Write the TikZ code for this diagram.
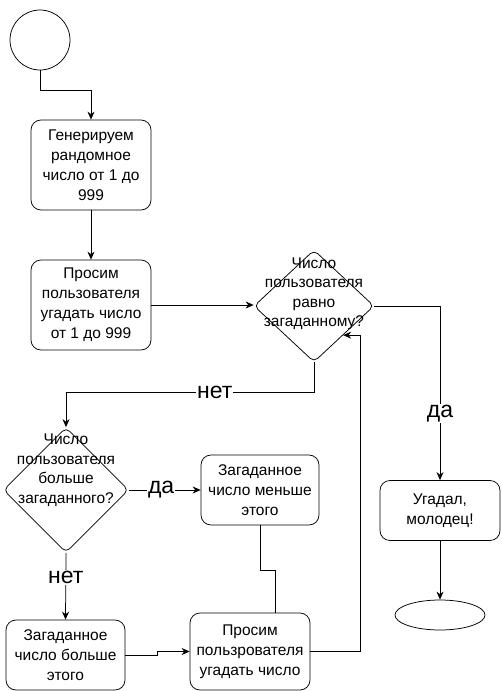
\documentclass[tikz,border=0pt]{standalone}
\usepackage{fontspec}
\setmainfont{Liberation Sans}
\usetikzlibrary{arrows.meta,positioning,shapes.geometric}
\tikzset{every picture/.style={line width=0.75pt}}
\tikzset{
    every node/.style={font=\fontsize{15.5}{20}\selectfont},
    box/.style={draw, rounded corners=10pt, align=center, minimum width=120, minimum height=90, inner sep=2pt},
    decision/.style={draw, diamond, rounded corners=5pt, minimum width=120, minimum height=112, inner sep=0pt},
    dtext/.style={align=center, font=\fontsize{15.5}{19.5}\selectfont},
    lbl/.style={fill=white, inner sep=1pt, font=\fontsize{23}{26}\selectfont},
    arr/.style={-{Stealth[length=8pt,width=7pt]}},
}

\begin{document}
\begin{tikzpicture}[x=1pt, y=-1pt]
    \useasboundingbox (0,0) rectangle (501,691);
    \node[draw, circle, minimum size=60] (start) at (40,40) {};
    \node[box] (gen) at (91,165) {Генерируем\\рандомное\\число от 1 до\\999};
    \node[box] (ask) at (91,305) {Просим\\пользователя\\угадать число\\от 1 до 999};
    \node[decision, label={[dtext, yshift=12]center:Число\\пользователя\\равно\\загаданному?}] (eq) at (314,306) {};
    \node[decision, minimum width=125, minimum height=125, label={[dtext, yshift=20]center:Число\\пользователя\\больше\\загаданного?}] (gt) at (66,490) {};
    \node[box, minimum width=118, minimum height=70] (less) at (260,490) {Загаданное\\число меньше\\этого};
    \node[box, minimum width=119, minimum height=70] (more) at (65.5,655) {Загаданное\\число больше\\этого};
    \node[box, minimum height=77] (again) at (250,651.5) {Просим\\пользрователя\\угадать число};
    \node[box, minimum height=60] (win) at (440,510.5) {Угадал,\\молодец!};
    \node[draw, ellipse, minimum width=90, minimum height=30] (stop) at (440,615) {};

    \draw[arr] (start.south) -- ++(0,20) -| (gen.north);
    \draw[arr] (gen) -- (ask);
    \draw[arr] (ask.east) -- (ask.east -| eq.west);
    \draw[arr] (eq.south) -- ++(0,30) -| node[lbl, pos=0.2] {нет} (gt.north);
    \draw[arr] (eq.east) -| node[lbl, pos=0.81] {да} (win.north);
    \draw[arr] (gt.east) -- node[lbl, pos=0.45] {да} (less.west);
    \draw[arr] (gt.south) -- node[lbl, pos=0.37] {нет} (more.north);
    \draw[arr] (more.east) -- ++(32,0) |- (again.west);
    \draw (less.south) -- ++(0,45) -| ([xshift=25pt]again.north);
    \draw[arr] (again.east) -- ++(50,0) |- (eq.-45);
    \draw[arr] (win) -- (stop);
\end{tikzpicture}
\end{document}
